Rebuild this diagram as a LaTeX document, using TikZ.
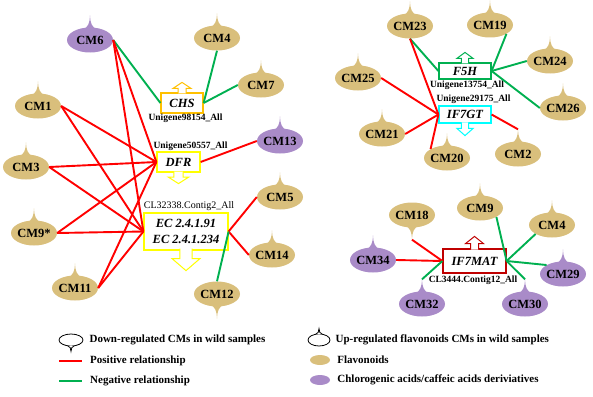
\documentclass[tikz,border=0pt]{standalone}
\usepackage{fontspec}
\setmainfont{Liberation Serif}
\usetikzlibrary{positioning, calc, shapes.geometric}
\definecolor{flavcolor}{HTML}{D9BF7C}
\definecolor{cgacolor}{HTML}{A98BC8}
\definecolor{poscolor}{HTML}{FF0000}
\definecolor{negcolor}{HTML}{00B050}
\definecolor{chscolor}{HTML}{FFC000}
\definecolor{dfrcolor}{HTML}{FFFF00}
\definecolor{f5hcolor}{HTML}{00B050}
\definecolor{gtcolor}{HTML}{00FFFF}
\definecolor{matcolor}{HTML}{C00000}
\newcommand{\cmfont}{\fontsize{12.5}{14}\selectfont\bfseries}
\newcommand{\genefont}{\fontsize{12.5}{16}\selectfont\bfseries\itshape}
\newcommand{\idfont}{\fontsize{9.5}{11}\selectfont\bfseries}
\newcommand{\lgdfont}{\fontsize{11}{13}\selectfont\bfseries}
\newcommand{\tailup}[2]{\fill[#2, shift={(#1.north)}] (-7.5,2) .. controls (-2,1) and (0,-5) .. (0,-12) coordinate (#1-tip) .. controls (0,-5) and (2,1) .. (7.5,2) -- cycle;}
\newcommand{\taildown}[2]{\fill[#2, shift={(#1.south)}] (-7.5,-2) .. controls (-2,-1) and (0,5) .. (0,12) coordinate (#1-tip) .. controls (0,5) and (2,-1) .. (7.5,-2) -- cycle;}
\newcommand{\arrowup}[3]{\filldraw[draw=#2, fill=white, line width=1pt, shift={(#1.north)}, #3] (-4,1) -- (-4,-4) -- (-9,-4) -- (0,-10) -- (9,-4) -- (4,-4) -- (4,1);}
\newcommand{\arrowdown}[3]{\filldraw[draw=#2, fill=white, line width=1pt, shift={(#1.south)}, #3] (-4,-1) -- (-4,4) -- (-9,4) -- (0,10) -- (9,4) -- (4,4) -- (4,-1);}

\begin{document}
\begin{tikzpicture}[x=1pt, y=-1pt,
    flav/.style={ellipse, fill=flavcolor, minimum width=46pt, minimum height=25pt, inner sep=-4pt, font=\cmfont},
    cga/.style={flav, fill=cgacolor},
    gene/.style={rectangle, draw, fill=white, line width=1.2pt, inner sep=0pt, align=center, font=\genefont},
    geneid/.style={inner sep=0pt, font=\idfont},
    posline/.style={poscolor, line width=1.9pt},
    negline/.style={negcolor, line width=1.9pt},
    lgd/.style={anchor=west, inner sep=0pt, font=\lgdfont},
  ]
    \useasboundingbox (0,0) rectangle (593,396);

    \node[cga] (cm6) at (90,40) {CM6};
    \node[flav] (cm4) at (217,38) {CM4};
    \node[flav] (cm7) at (261,85) {CM7};
    \node[flav] (cm1) at (38,106) {CM1};
    \node[cga] (cm13) at (280,141) {CM13};
    \node[flav] (cm3) at (26,167) {CM3};
    \node[flav] (cm9s) at (34,233) {CM9*};
    \node[flav] (cm11) at (75,288) {CM11};
    \node[flav] (cm5) at (280,197) {CM5};
    \node[flav] (cm14) at (272,255) {CM14};
    \node[flav] (cm12) at (217,294) {CM12};

    \node[gene, draw=chscolor, minimum width=42pt, minimum height=20pt] (chs) at (182,103) {CHS};
    \node[gene, draw=dfrcolor, minimum width=43pt, minimum height=20pt] (dfr) at (178.5,162) {DFR};
    \node[gene, draw=dfrcolor, minimum width=84pt, minimum height=37pt] (ec) at (186,231.5) {EC 2.4.1.91\\EC 2.4.1.234};
    \node[geneid] (chsid) at (185.5,118) {Unigene98154\_All};
    \node[geneid] (dfrid) at (190.5,146) {Unigene50557\_All};
    \node[geneid, font=\fontsize{10}{12}\selectfont] (ecid) at (189,206) {CL32338.Contig2\_All};

    \node[flav] (cm23) at (410,26) {CM23};
    \node[flav] (cm19) at (490,25) {CM19};
    \node[flav] (cm24) at (550,61) {CM24};
    \node[flav] (cm25) at (358,78) {CM25};
    \node[flav] (cm26) at (563,108) {CM26};
    \node[flav] (cm21) at (382,134) {CM21};
    \node[flav] (cm20) at (447,158) {CM20};
    \node[flav] (cm2) at (518,154) {CM2};

    \node[gene, draw=f5hcolor, minimum width=52pt, minimum height=16pt] (f5h) at (465,71) {F5H};
    \node[gene, draw=gtcolor, minimum width=52pt, minimum height=17pt] (if7gt) at (465,114.5) {IF7GT};
    \node[geneid] (f5hid) at (467,85) {Unigene13754\_All};
    \node[geneid] (if7gtid) at (473.5,99) {Unigene29175\_All};

    \node[flav] (cm18) at (412,215) {CM18};
    \node[flav] (cm9) at (480,208) {CM9};
    \node[flav] (cm4r) at (552,225) {CM4};
    \node[cga] (cm34) at (373,260) {CM34};
    \node[cga] (cm29) at (563,274) {CM29};
    \node[cga] (cm32) at (422,304) {CM32};
    \node[cga] (cm30) at (525,304) {CM30};

    \node[gene, draw=matcolor, minimum width=63pt, minimum height=24pt] (if7mat) at (474.5,261) {IF7MAT};
    \node[geneid] (if7matid) at (473,280) {CL3444.Contig12\_All};

    \foreach \n in {cm6, cm13, cm34, cm29, cm32, cm30} \tailup{\n}{cgacolor};
    \foreach \n in {cm4, cm7, cm1, cm3, cm9s, cm11, cm5, cm14, cm23, cm19, cm24, cm25, cm26, cm21, cm20, cm2, cm9, cm4r} \tailup{\n}{flavcolor};
    \taildown{cm12}{flavcolor};
    \taildown{cm18}{flavcolor};

    \arrowup{chs}{chscolor}{scale=1};
    \arrowdown{dfr}{dfrcolor}{xscale=1.15, yscale=1.1};
    \arrowdown{ec}{dfrcolor}{xscale=1.55, yscale=2};
    \arrowup{f5h}{f5hcolor}{xscale=0.9};
    \arrowdown{if7gt}{gtcolor}{xscale=0.9, yscale=1.2};
    \arrowup{if7mat}{matcolor}{yscale=1.2};

    \draw[negline] (cm6.east) -- (chs.west);
    \draw[negline] (cm4.south) -- (chs.east);
    \draw[negline] (cm7.west) -- (chs.east);
    \foreach \n in {cm6, cm1, cm3, cm9s, cm11} {
      \draw[posline] (\n.east) -- (dfr.west);
      \draw[posline] (\n.east) -- (ec.west);
    }
    \draw[posline] (dfr.east) -- (cm13.west);
    \draw[posline] (ec.east) -- (cm5.west);
    \draw[posline] (ec.east) -- (cm14.west);
    \draw[negline] (ec.east) -- (cm12.north);

    \draw[negline] (cm23.south) -- (f5h.west);
    \draw[negline] (cm19.south east) -- (f5h.east);
    \draw[negline] (cm24.west) -- (f5h.east);
    \draw[negline] (f5h.east) -- (cm26.west);
    \draw[posline] (cm23.south) -- (if7gt.west);
    \draw[posline] (cm25.east) -- (if7gt.west);
    \draw[posline] (cm21.east) -- (if7gt.west);
    \draw[posline] (if7gt.west) -- (cm20.north west);
    \draw[posline] (if7gt.east) -- (cm2-tip);

    \draw[posline] (cm18-tip) -- (if7mat.west);
    \draw[posline] (cm34.east) -- (if7mat.west);
    \draw[negline] (if7mat.west) -- (cm32-tip);
    \draw[negline] (cm9.south east) -- (if7mat.east);
    \draw[negline] (cm4r.south west) -- (if7mat.east);
    \draw[negline] (if7mat.east) -- (cm29.north west);
    \draw[negline] (if7mat.east) -- (cm30-tip);

    \node[ellipse, draw, fill=white, line width=0.8pt, minimum width=24pt, minimum height=12pt, inner sep=0pt] (legdown) at (71,340) {};
    \filldraw[fill=white, line width=0.8pt, shift={(legdown.south)}] (-3.5,-0.8) .. controls (-1,0) and (0,2) .. (0,5) .. controls (0,2) and (1,0) .. (3.5,-0.8);
    \node[lgd, right=6pt of legdown] (legdowntxt) {Down-regulated CMs in wild samples};
    \coordinate (posa) at (59,361);
    \coordinate (posb) at (82,361);
    \draw[posline, line width=1.5pt] (posa) -- (posb);
    \node[lgd, right=8pt of posb] (postxt) {Positive relationship};
    \coordinate (nega) at (59,381);
    \coordinate (negb) at (82,381);
    \draw[negline, line width=1.5pt] (nega) -- (negb);
    \node[lgd, right=8pt of negb] (negtxt) {Negative relationship};

    \node[ellipse, draw, fill=white, line width=0.8pt, minimum width=22pt, minimum height=12pt, inner sep=0pt] (legup) at (319,340) {};
    \filldraw[fill=white, line width=0.8pt, shift={(legup.north)}] (-3.5,0.8) .. controls (-1,0) and (0,-2) .. (0,-5) .. controls (0,-2) and (1,0) .. (3.5,0.8);
    \node[lgd, right=5pt of legup] (leguptxt) {Up-regulated flavonoids CMs in wild samples};
    \node[ellipse, fill=flavcolor, minimum width=20pt, minimum height=10pt, inner sep=0pt] (legflav) at (320,360) {};
    \node[lgd, right=7pt of legflav] (legflavtxt) {Flavonoids};
    \node[ellipse, fill=cgacolor, minimum width=20pt, minimum height=10pt, inner sep=0pt] (legcga) at (320,380) {};
    \node[lgd, right=7pt of legcga] (legcgatxt) {Chlorogenic acids/caffeic acids deriviatives};
  \end{tikzpicture}
\end{document}
